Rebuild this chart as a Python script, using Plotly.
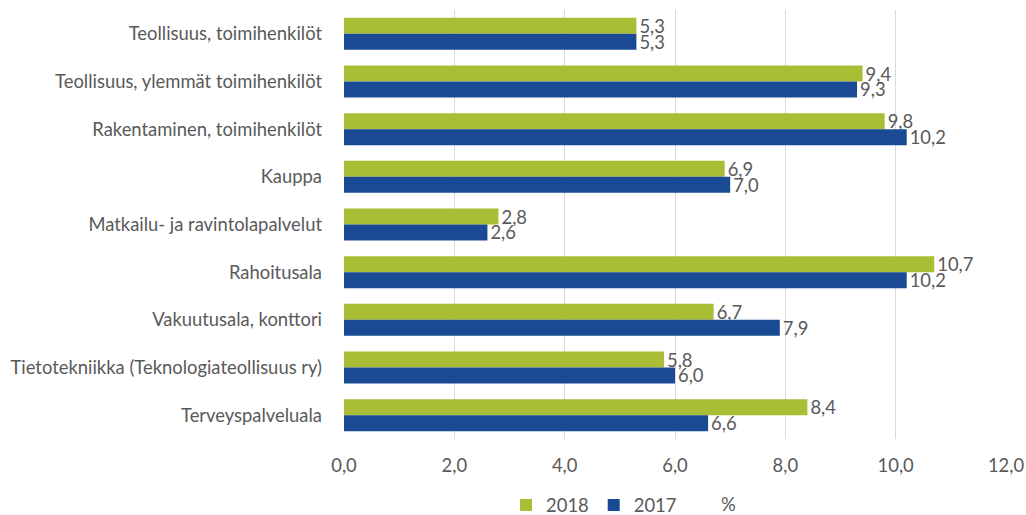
import plotly.graph_objects as go

categories = [
    "Teollisuus, toimihenkilöt",
    "Teollisuus, ylemmät toimihenkilöt",
    "Rakentaminen, toimihenkilöt",
    "Kauppa",
    "Matkailu- ja ravintolapalvelut",
    "Rahoitusala",
    "Vakuutusala, konttori",
    "Tietotekniikka (Teknologiateollisuus ry)",
    "Terveyspalveluala",
]
values_2018 = [5.3, 9.4, 9.8, 6.9, 2.8, 10.7, 6.7, 5.8, 8.4]
values_2017 = [5.3, 9.3, 10.2, 7.0, 2.6, 10.2, 7.9, 6.0, 6.6]
x_ticks = [0, 2, 4, 6, 8, 10, 12]

GREEN = "#A9BE35"
BLUE = "#1A4A94"
TEXT = "#595959"
FONT = "Lato"
FS = 18.4

W, H = 1026, 515
L, R, T, B = 344, 20, 10, 76

fig = go.Figure()
for name, vals, col in [("2018", values_2018, GREEN), ("2017", values_2017, BLUE)]:
    fig.add_trace(go.Bar(
        y=categories, x=vals, orientation="h", name=name,
        marker=dict(color=col, line=dict(width=0)),
        texttemplate="%{x:.1f}", textposition="outside", constraintext="none",
        textfont=dict(color=TEXT, size=FS, family=FONT), cliponaxis=False,
    ))

pw = W - L - R
ph = H - T - B
fig.update_layout(
    width=W, height=H,
    margin=dict(l=L, r=R, t=T, b=B, autoexpand=False),
    barmode="group", bargap=0.33, bargroupgap=0,
    separators=", ",
    plot_bgcolor="white", paper_bgcolor="white",
    font=dict(family=FONT, color=TEXT, size=FS),
    showlegend=True,
    legend=dict(orientation="h", x=0.579, xanchor="center", xref="container",
                y=1 - 505 / H, yanchor="middle", yref="container",
                font=dict(size=FS, color=TEXT, family=FONT),
                traceorder="normal"),
    xaxis=dict(range=[0, 12], tickvals=x_ticks, tickformat=".1f",
               showgrid=True, gridcolor="#D9D9D9", gridwidth=1,
               zeroline=False, showline=False, ticks="", automargin=False,
               ticklabelstandoff=14,
               tickfont=dict(size=FS, color=TEXT, family=FONT)),
    yaxis=dict(autorange="reversed", showgrid=False, showline=False, ticks="",
               automargin=False, ticklabelstandoff=21,
               tickfont=dict(size=FS, color=TEXT, family=FONT)),
    annotations=[dict(text="%", x=(728 - L) / pw, y=-(504 - (T + ph)) / ph,
                      xref="paper", yref="paper",
                      showarrow=False, font=dict(size=FS, color=TEXT, family=FONT),
                      xanchor="center", yanchor="middle")],
)

fig.write_html(
    "out.html",
    config={"displayModeBar": False},
    post_script="document.body.style.margin='0';document.body.style.overflow='hidden';",
)
